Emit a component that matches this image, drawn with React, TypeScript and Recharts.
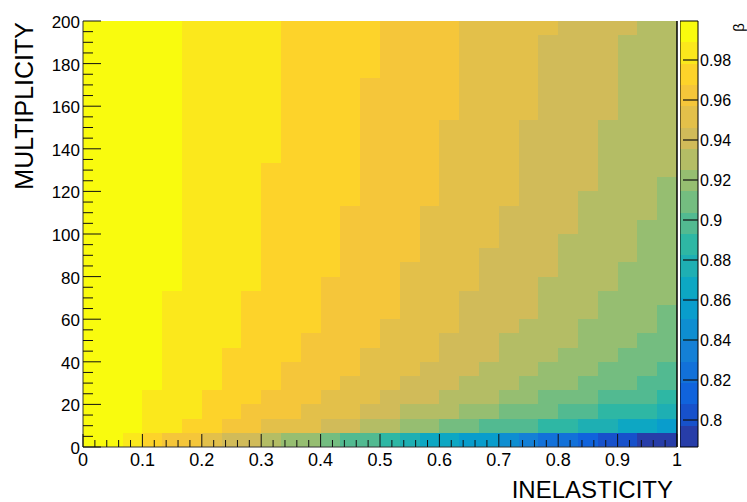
import { Label, ReferenceArea, ReferenceLine, ScatterChart, XAxis, YAxis } from "recharts";

// beta per cell, one row per multiplicity bin (bottom row first), 30 inelasticity bins each
const betaRows = [
  [0.994,0.994,0.984,0.973,0.962,0.962,0.952,0.941,0.941,0.930,0.920,0.920,0.909,0.898,0.898,0.888,0.877,0.866,0.866,0.856,0.856,0.845,0.834,0.824,0.824,0.813,0.802,0.802,0.792,0.792],
  [0.994,0.994,0.994,0.984,0.984,0.973,0.973,0.962,0.962,0.952,0.952,0.952,0.941,0.941,0.930,0.930,0.920,0.920,0.909,0.909,0.898,0.898,0.898,0.888,0.888,0.877,0.877,0.866,0.866,0.856],
  [0.994,0.994,0.994,0.984,0.984,0.984,0.973,0.973,0.962,0.962,0.962,0.952,0.952,0.952,0.941,0.941,0.930,0.930,0.930,0.920,0.920,0.909,0.909,0.909,0.898,0.898,0.888,0.888,0.888,0.877],
  [0.994,0.994,0.994,0.984,0.984,0.984,0.973,0.973,0.973,0.962,0.962,0.962,0.952,0.952,0.952,0.941,0.941,0.941,0.930,0.930,0.930,0.920,0.920,0.909,0.909,0.909,0.898,0.898,0.898,0.888],
  [0.994,0.994,0.994,0.994,0.984,0.984,0.984,0.973,0.973,0.973,0.962,0.962,0.962,0.952,0.952,0.952,0.941,0.941,0.941,0.930,0.930,0.930,0.920,0.920,0.920,0.909,0.909,0.909,0.898,0.898],
  [0.994,0.994,0.994,0.994,0.984,0.984,0.984,0.973,0.973,0.973,0.962,0.962,0.962,0.962,0.952,0.952,0.952,0.941,0.941,0.941,0.930,0.930,0.930,0.920,0.920,0.920,0.909,0.909,0.909,0.898],
  [0.994,0.994,0.994,0.994,0.984,0.984,0.984,0.973,0.973,0.973,0.973,0.962,0.962,0.962,0.952,0.952,0.952,0.952,0.941,0.941,0.941,0.930,0.930,0.930,0.920,0.920,0.920,0.909,0.909,0.909],
  [0.994,0.994,0.994,0.994,0.984,0.984,0.984,0.984,0.973,0.973,0.973,0.962,0.962,0.962,0.962,0.952,0.952,0.952,0.941,0.941,0.941,0.930,0.930,0.930,0.930,0.920,0.920,0.920,0.909,0.909],
  [0.994,0.994,0.994,0.994,0.984,0.984,0.984,0.984,0.973,0.973,0.973,0.973,0.962,0.962,0.962,0.952,0.952,0.952,0.952,0.941,0.941,0.941,0.930,0.930,0.930,0.920,0.920,0.920,0.920,0.909],
  [0.994,0.994,0.994,0.994,0.984,0.984,0.984,0.984,0.973,0.973,0.973,0.973,0.962,0.962,0.962,0.962,0.952,0.952,0.952,0.941,0.941,0.941,0.941,0.930,0.930,0.930,0.920,0.920,0.920,0.909],
  [0.994,0.994,0.994,0.994,0.984,0.984,0.984,0.984,0.973,0.973,0.973,0.973,0.962,0.962,0.962,0.962,0.952,0.952,0.952,0.941,0.941,0.941,0.941,0.930,0.930,0.930,0.920,0.920,0.920,0.920],
  [0.994,0.994,0.994,0.994,0.994,0.984,0.984,0.984,0.984,0.973,0.973,0.973,0.962,0.962,0.962,0.962,0.952,0.952,0.952,0.952,0.941,0.941,0.941,0.930,0.930,0.930,0.930,0.920,0.920,0.920],
  [0.994,0.994,0.994,0.994,0.994,0.984,0.984,0.984,0.984,0.973,0.973,0.973,0.973,0.962,0.962,0.962,0.952,0.952,0.952,0.952,0.941,0.941,0.941,0.941,0.930,0.930,0.930,0.920,0.920,0.920],
  [0.994,0.994,0.994,0.994,0.994,0.984,0.984,0.984,0.984,0.973,0.973,0.973,0.973,0.962,0.962,0.962,0.962,0.952,0.952,0.952,0.941,0.941,0.941,0.941,0.930,0.930,0.930,0.930,0.920,0.920],
  [0.994,0.994,0.994,0.994,0.994,0.984,0.984,0.984,0.984,0.973,0.973,0.973,0.973,0.962,0.962,0.962,0.962,0.952,0.952,0.952,0.952,0.941,0.941,0.941,0.930,0.930,0.930,0.930,0.920,0.920],
  [0.994,0.994,0.994,0.994,0.994,0.984,0.984,0.984,0.984,0.973,0.973,0.973,0.973,0.962,0.962,0.962,0.962,0.952,0.952,0.952,0.952,0.941,0.941,0.941,0.941,0.930,0.930,0.930,0.920,0.920],
  [0.994,0.994,0.994,0.994,0.994,0.984,0.984,0.984,0.984,0.973,0.973,0.973,0.973,0.962,0.962,0.962,0.962,0.952,0.952,0.952,0.952,0.941,0.941,0.941,0.941,0.930,0.930,0.930,0.930,0.920],
  [0.994,0.994,0.994,0.994,0.994,0.984,0.984,0.984,0.984,0.973,0.973,0.973,0.973,0.973,0.962,0.962,0.962,0.962,0.952,0.952,0.952,0.952,0.941,0.941,0.941,0.930,0.930,0.930,0.930,0.920],
  [0.994,0.994,0.994,0.994,0.994,0.984,0.984,0.984,0.984,0.973,0.973,0.973,0.973,0.973,0.962,0.962,0.962,0.962,0.952,0.952,0.952,0.952,0.941,0.941,0.941,0.941,0.930,0.930,0.930,0.920],
  [0.994,0.994,0.994,0.994,0.994,0.984,0.984,0.984,0.984,0.973,0.973,0.973,0.973,0.973,0.962,0.962,0.962,0.962,0.952,0.952,0.952,0.952,0.941,0.941,0.941,0.941,0.930,0.930,0.930,0.930],
  [0.994,0.994,0.994,0.994,0.994,0.984,0.984,0.984,0.984,0.984,0.973,0.973,0.973,0.973,0.962,0.962,0.962,0.962,0.952,0.952,0.952,0.952,0.941,0.941,0.941,0.941,0.930,0.930,0.930,0.930],
  [0.994,0.994,0.994,0.994,0.994,0.984,0.984,0.984,0.984,0.984,0.973,0.973,0.973,0.973,0.962,0.962,0.962,0.962,0.952,0.952,0.952,0.952,0.941,0.941,0.941,0.941,0.930,0.930,0.930,0.930],
  [0.994,0.994,0.994,0.994,0.994,0.984,0.984,0.984,0.984,0.984,0.973,0.973,0.973,0.973,0.962,0.962,0.962,0.962,0.952,0.952,0.952,0.952,0.941,0.941,0.941,0.941,0.930,0.930,0.930,0.930],
  [0.994,0.994,0.994,0.994,0.994,0.984,0.984,0.984,0.984,0.984,0.973,0.973,0.973,0.973,0.962,0.962,0.962,0.962,0.962,0.952,0.952,0.952,0.952,0.941,0.941,0.941,0.941,0.930,0.930,0.930],
  [0.994,0.994,0.994,0.994,0.994,0.984,0.984,0.984,0.984,0.984,0.973,0.973,0.973,0.973,0.962,0.962,0.962,0.962,0.962,0.952,0.952,0.952,0.952,0.941,0.941,0.941,0.941,0.930,0.930,0.930],
  [0.994,0.994,0.994,0.994,0.994,0.984,0.984,0.984,0.984,0.984,0.973,0.973,0.973,0.973,0.962,0.962,0.962,0.962,0.962,0.952,0.952,0.952,0.952,0.941,0.941,0.941,0.941,0.930,0.930,0.930],
  [0.994,0.994,0.994,0.994,0.994,0.984,0.984,0.984,0.984,0.984,0.973,0.973,0.973,0.973,0.973,0.962,0.962,0.962,0.962,0.952,0.952,0.952,0.952,0.941,0.941,0.941,0.941,0.930,0.930,0.930],
  [0.994,0.994,0.994,0.994,0.994,0.984,0.984,0.984,0.984,0.984,0.973,0.973,0.973,0.973,0.973,0.962,0.962,0.962,0.962,0.952,0.952,0.952,0.952,0.941,0.941,0.941,0.941,0.930,0.930,0.930],
  [0.994,0.994,0.994,0.994,0.994,0.984,0.984,0.984,0.984,0.984,0.973,0.973,0.973,0.973,0.973,0.962,0.962,0.962,0.962,0.952,0.952,0.952,0.952,0.941,0.941,0.941,0.941,0.930,0.930,0.930],
  [0.994,0.994,0.994,0.994,0.994,0.984,0.984,0.984,0.984,0.984,0.973,0.973,0.973,0.973,0.973,0.962,0.962,0.962,0.962,0.952,0.952,0.952,0.952,0.952,0.941,0.941,0.941,0.941,0.930,0.930],
];

// bin edges: 30 x 30 histogram, inelasticity 0..1, multiplicity 0..200
const inelasticityEdges = Array.from({ length: 31 }, (_, i) => i / 30);
const multiplicityEdges = Array.from({ length: 31 }, (_, i) => (i * 200) / 30);

const xMajorTicks = [0, 0.1, 0.2, 0.3, 0.4, 0.5, 0.6, 0.7, 0.8, 0.9, 1];
const yMajorTicks = [0, 20, 40, 60, 80, 100, 120, 140, 160, 180, 200];
const zTicks = [0.8, 0.82, 0.84, 0.86, 0.88, 0.9, 0.92, 0.94, 0.96, 0.98];

// colour scale range of the z axis
const zMin = 0.7865;
const zMax = 0.9995;
const CONTOURS = 20;
const dz = (zMax - zMin) / CONTOURS;

// minor ticks every 0.02 / every 5, majors picked out of them
const xTicks = Array.from({ length: 51 }, (_, i) => i / 50);
const yTicks = Array.from({ length: 41 }, (_, i) => i * 5);

// ROOT kBird palette
const birdStops = [0, 0.125, 0.25, 0.375, 0.5, 0.625, 0.75, 0.875, 1];
const birdRed = [0.2082, 0.0592, 0.078, 0.0232, 0.1802, 0.5301, 0.8186, 0.9956, 0.9764];
const birdGreen = [0.1664, 0.3599, 0.5041, 0.6419, 0.7178, 0.7492, 0.7328, 0.7862, 0.9832];
const birdBlue = [0.5293, 0.8684, 0.8385, 0.7914, 0.6425, 0.4662, 0.3499, 0.1968, 0.0539];

const birdColor = (t: number) => {
  let k = 0;
  while (k < 7 && t > birdStops[k + 1]) k++;
  const f = (t - birdStops[k]) / (birdStops[k + 1] - birdStops[k]);
  const ch = (a: number[]) => Math.round(255 * (a[k] + (a[k + 1] - a[k]) * f));
  return `rgb(${ch(birdRed)},${ch(birdGreen)},${ch(birdBlue)})`;
};

const levelColor = (level: number) =>
  birdColor(Math.floor(((level + 0.99) * 255) / CONTOURS) / 254);

const betaColor = (beta: number) => {
  const level = Math.min(CONTOURS - 1, Math.max(0, Math.floor((beta - zMin) / dz)));
  return levelColor(level);
};

const cells = betaRows.flatMap((row, r) =>
  row.map((beta, c) => ({
    x1: inelasticityEdges[c],
    x2: inelasticityEdges[c + 1],
    y1: multiplicityEdges[r],
    y2: multiplicityEdges[r + 1],
    beta,
  }))
);

const bands = Array.from({ length: CONTOURS }, (_, k) => ({
  y1: zMin + k * dz,
  y2: zMin + (k + 1) * dz,
  color: levelColor(k),
}));

const FONT = "'Liberation Sans', Arial, Helvetica, sans-serif";
const INK = "#111";

const cellShape = (fill: string) => (p: any) =>
  <rect x={p.x} y={p.y} width={p.width} height={p.height} fill={fill} shapeRendering="crispEdges" />;

const XTick = ({ x, y, payload }: any) => {
  const step = Math.round(payload.value * 50);
  const major = xMajorTicks.some((t) => Math.abs(t - payload.value) < 1e-9);
  return (
    <g>
      <line x1={x} x2={x} y1={y} y2={y - (major ? 13 : 7)} stroke={INK} strokeWidth={1} />
      {major && (
        <text x={x} y={y + 19} textAnchor="middle" fontSize={18} fill="#000" fontFamily={FONT}>
          {String(step / 50)}
        </text>
      )}
    </g>
  );
};

const YTick = ({ x, y, payload }: any) => {
  const major = yMajorTicks.includes(payload.value);
  return (
    <g>
      <line x1={x} x2={x + (major ? 18 : 10)} y1={y} y2={y} stroke={INK} strokeWidth={1} />
      {major && (
        <text x={x - 3} y={y + 7} textAnchor="end" fontSize={17} fill="#000" fontFamily={FONT}>
          {String(payload.value)}
        </text>
      )}
    </g>
  );
};

const ZTick = ({ x, y, payload }: any) => (
  <g>
    <line x1={x} x2={x - 15} y1={y} y2={y} stroke={INK} strokeWidth={1.2} />
    <text x={x + 2} y={y + 6} textAnchor="start" fontSize={16} fill="#000" fontFamily={FONT}>
      {String(Math.round(payload.value * 100) / 100)}
    </text>
  </g>
);

export default function App() {
  return (
    <div style={{ position: "absolute", left: 0, top: 0, width: 747, height: 502, background: "#fff", fontFamily: FONT }}>
      <div style={{ position: "absolute", left: 0, top: 0 }}>
        <ScatterChart width={747} height={502} margin={{ top: 21, right: 70, bottom: 15, left: 23 }}>
          {cells.map((cell, i) => (
            <ReferenceArea
              key={i}
              x1={cell.x1}
              x2={cell.x2}
              y1={cell.y1}
              y2={cell.y2}
              ifOverflow="visible"
              shape={cellShape(betaColor(cell.beta))}
            />
          ))}
          <ReferenceLine x={1} stroke="#000" strokeWidth={1.5} ifOverflow="visible" />
          <XAxis
            type="number"
            dataKey="x"
            domain={[0, 1]}
            ticks={xTicks}
            interval={0}
            height={40}
            tickSize={0}
            tickMargin={0}
            tickLine={false}
            axisLine={{ stroke: "#333" }}
            tick={(p: any) => <XTick {...p} />}
            allowDataOverflow
          >
            <Label
              content={(p: any) => (
                <text
                  x={p.viewBox.x + p.viewBox.width - 4}
                  y={p.viewBox.y + 51}
                  textAnchor="end"
                  fontSize={24}
                  fill="#000"
                  fontFamily={FONT}
                >
                  INELASTICITY
                </text>
              )}
            />
          </XAxis>
          <YAxis
            type="number"
            dataKey="y"
            domain={[0, 200]}
            ticks={yTicks}
            interval={0}
            width={60}
            tickSize={0}
            tickMargin={0}
            tickLine={false}
            axisLine={{ stroke: "#333" }}
            tick={(p: any) => <YTick {...p} />}
            allowDataOverflow
          >
            <Label
              content={(p: any) => {
                const bx = p.viewBox.x + 10;
                const by = p.viewBox.y + 1;
                return (
                  <text
                    x={bx}
                    y={by}
                    transform={`rotate(-90, ${bx}, ${by})`}
                    textAnchor="end"
                    fontSize={25}
                    fill="#000"
                    fontFamily={FONT}
                  >
                    MULTIPLICITY
                  </text>
                );
              }}
            />
          </YAxis>
        </ScatterChart>
      </div>
      <div style={{ position: "absolute", left: 680, top: 0 }}>
        <ScatterChart width={67} height={502} margin={{ top: 21, right: 0, bottom: 55, left: 0 }}>
          {bands.map((b, k) => (
            <ReferenceArea key={k} x1={0} x2={1} y1={b.y1} y2={b.y2} ifOverflow="visible" shape={cellShape(b.color)} />
          ))}
          <ReferenceArea x1={0} x2={1} y1={zMin} y2={zMax} ifOverflow="visible" fill="none" stroke="#000" strokeWidth={1} />
          <XAxis type="number" dataKey="x" domain={[0, 1]} hide allowDataOverflow />
          <YAxis
            type="number"
            dataKey="z"
            orientation="right"
            domain={[zMin, zMax]}
            ticks={zTicks}
            interval={0}
            width={49}
            tickSize={0}
            tickMargin={0}
            tickLine={false}
            axisLine={false}
            tick={(p: any) => <ZTick {...p} />}
            allowDataOverflow
          >
            <Label
              content={(p: any) => {
                const bx = p.viewBox.x + 46;
                const by = p.viewBox.y + 2;
                return (
                  <text
                    x={bx}
                    y={by}
                    transform={`rotate(-90, ${bx}, ${by})`}
                    textAnchor="end"
                    fontSize={15}
                    fill="#000"
                    fontFamily={FONT}
                  >
                    β
                  </text>
                );
              }}
            />
          </YAxis>
        </ScatterChart>
      </div>
    </div>
  );
}
